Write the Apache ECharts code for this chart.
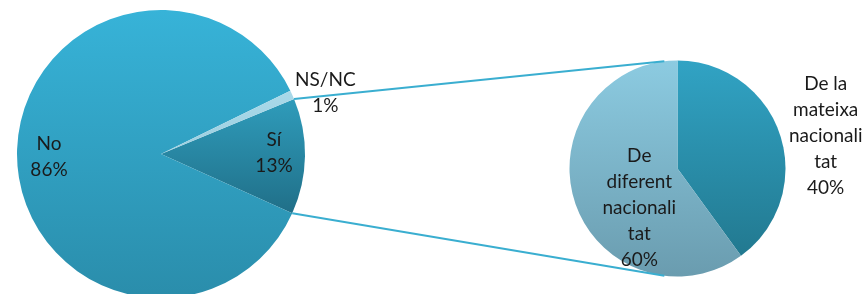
<!DOCTYPE html>
<html>
<head>
<meta charset="utf-8">
<script src="https://cdn.jsdelivr.net/npm/echarts@6/dist/echarts.min.js"></script>
<style>
  html, body { margin: 0; padding: 0; background: #fff; }
</style>
</head>
<body>
<div id="chart" style="width: 864px; height: 294px;"></div>
<script>
// data
const mainNames = ['Sí', 'No', 'NS/NC'];
const mainValues = [13, 86, 1];
const subNames = ['De la\nmateixa\nnacionali\ntat', 'De\ndiferent\nnacionali\ntat'];
const subValues = [40, 60];

// geometry of the two pies
const c1 = [161, 154], r1 = 144, start1 = 22.5;
const c2 = [677.5, 168.5], r2 = 108;

// gradient helper
const grad = (top, bottom) => new echarts.graphic.LinearGradient(0, 0, 0, 1, [
    { offset: 0, color: top },
    { offset: 1, color: bottom }
]);

const mainColors = [grad('#2f9cbb', '#206f88'), grad('#37b3d8', '#2a8dab'), grad('#a9d9e9', '#9ccfe0')];
const subColors = [grad('#31a3c4', '#227990'), grad('#8ccbe1', '#6a9caf')];

// label shifts from the default inside position
const mainShift = [[38, -2], [-37, 2], [96, -30]];
const subShift = [[94, -15], [16, 22]];

const labelStyle = {
    show: true,
    position: 'inside',
    formatter: '{b}\n{d}%',
    fontFamily: 'Lato',
    fontSize: 19,
    lineHeight: 26,
    color: '#1a1a1a'
};

// connector lines: from the Sí slice edges to the second pie
const total = mainValues.reduce((a, b) => a + b, 0);
const a1 = start1 * Math.PI / 180;
const a2 = (start1 - mainValues[0] / total * 360) * Math.PI / 180;
const p1 = [c1[0] + r1 * Math.cos(a1), c1[1] - r1 * Math.sin(a1)];
const p2 = [c1[0] + r1 * Math.cos(a2), c1[1] - r1 * Math.sin(a2)];
const b = 97 * Math.PI / 180;
const q1 = [c2[0] + r2 * Math.cos(b), c2[1] - r2 * Math.sin(b)];
const q2 = [c2[0] + r2 * Math.cos(b), c2[1] + r2 * Math.sin(b)];

const option = {
    animation: false,
    graphic: [
        { type: 'line', shape: { x1: p1[0], y1: p1[1], x2: q1[0], y2: q1[1] }, style: { stroke: '#3aaed0', lineWidth: 2 }, z: 10 },
        { type: 'line', shape: { x1: p2[0], y1: p2[1], x2: q2[0], y2: q2[1] }, style: { stroke: '#3aaed0', lineWidth: 2 }, z: 10 }
    ],
    series: [
        {
            type: 'pie',
            center: c1,
            radius: r1,
            startAngle: start1,
            clockwise: true,
            avoidLabelOverlap: false,
            emphasis: { disabled: true },
            label: labelStyle,
            labelLine: { show: false },
            labelLayout: (p) => ({ dx: mainShift[p.dataIndex][0], dy: mainShift[p.dataIndex][1] }),
            itemStyle: { borderWidth: 0 },
            data: mainNames.map((n, i) => ({ name: n, value: mainValues[i], itemStyle: { color: mainColors[i] } }))
        },
        {
            type: 'pie',
            center: c2,
            radius: r2,
            startAngle: 90,
            clockwise: true,
            avoidLabelOverlap: false,
            emphasis: { disabled: true },
            label: labelStyle,
            labelLine: { show: false },
            labelLayout: (p) => ({ dx: subShift[p.dataIndex][0], dy: subShift[p.dataIndex][1] }),
            itemStyle: { borderWidth: 0 },
            data: subNames.map((n, i) => ({ name: n, value: subValues[i], itemStyle: { color: subColors[i] } }))
        }
    ]
};

const myChart = echarts.init(document.getElementById('chart'));
myChart.setOption(option);
</script>
</body>
</html>
